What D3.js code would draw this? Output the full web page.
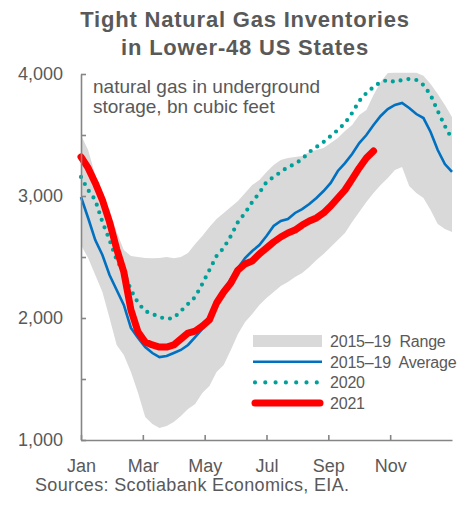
<!DOCTYPE html>
<html>
<head>
<meta charset="utf-8">
<title>Tight Natural Gas Inventories</title>
<script src="https://d3js.org/d3.v7.min.js"></script>
<style>
  body { margin: 0; background: #fff; }
  svg text { font-family: "Liberation Sans", Arial, sans-serif; fill: #595959; }
</style>
</head>
<body>
<svg id="chart" width="465" height="512"></svg>
<script>
// weekly values, bn cubic feet (week 0 = start of Jan)
var rangeHigh = [3500,3377,3172,2984,2885,2705,2557,2508,2500,2492,2490,2492,2500,2490,2500,2533,
  2607,2672,2746,2811,2860,2910,2959,3025,3090,3131,3197,3254,3295,3311,3320,3328,3361,3377,3393,
  3434,3475,3533,3582,3664,3705,3828,3934,4008,4010,4010,4010,4010,3985,3918,3836,3746,3648];
var rangeLow = [2598,2492,2352,2213,2000,1779,1697,1557,1385,1188,1131,1098,1115,1148,1197,1254,
  1295,1385,1443,1557,1615,1738,1869,1967,2033,2107,2164,2213,2262,2295,2336,2369,2418,2475,2525,
  2582,2639,2697,2787,2869,2951,3025,3090,3148,3213,3238,3082,3025,2984,2885,2770,2730,2705];
var avg1519 = [2992,2820,2639,2516,2352,2230,2107,1918,1836,1762,1713,1680,1688,1713,1738,1779,
  1844,1910,1984,2139,2221,2320,2410,2492,2549,2598,2672,2754,2795,2811,2861,2893,2934,2984,3041,
  3107,3205,3270,3344,3434,3500,3582,3656,3713,3746,3762,3721,3672,3639,3525,3377,3262,3197];
var y2020 = [3156,3049,2967,2787,2639,2475,2377,2230,2123,2057,2033,2008,1992,2000,2057,2115,
  2172,2279,2393,2508,2574,2672,2787,2861,2951,3025,3115,3156,3197,3238,3262,3303,3361,3402,3443,
  3492,3541,3598,3680,3779,3844,3893,3934,3951,3934,3951,3959,3951,3910,3828,3697,3574,3467];
var y2021 = [3320,3230,3107,2967,2787,2566,2377,2066,1885,1803,1779,1762,1762,1779,1828,1877,
  1893,1934,1984,2123,2213,2287,2393,2443,2467,2525,2574,2623,2664,2697,2721,2762,2795,2820,2861,
  2918,2984,3049,3139,3230,3311,3369];

var monthTicks = [0, 2, 4, 6, 8, 10];
var monthLabels = ["Jan", "Mar", "May", "Jul", "Sep", "Nov"];
var yTicks = [1000, 1500, 2000, 2500, 3000, 3500, 4000];

var legendItems = ["2015\u201319  Range", "2015\u201319  Average", "2020", "2021"];

var svg = d3.select("#chart");

var x = d3.scaleLinear().domain([0, 12]).range([81, 452]);
var y = d3.scaleLinear().domain([1000, 4000]).range([440, 74]);
var wk = function(i) { return x(i * 12 / 52); };

// title
var title = svg.append("text")
  .attr("x", 245).attr("y", 27)
  .attr("text-anchor", "middle")
  .style("font-size", "22px").style("font-weight", "bold")
  .style("letter-spacing", "0.8px");
title.append("tspan").attr("x", 245).text("Tight Natural Gas Inventories");
title.append("tspan").attr("x", 245).attr("dy", 28).text("in Lower-48 US States");

// range band
var band = d3.area()
  .x(function(d, i) { return wk(i); })
  .y0(function(d, i) { return y(rangeLow[i]); })
  .y1(function(d) { return y(d); });
svg.append("path").datum(rangeHigh)
  .attr("d", band).attr("fill", "#d9d9d9");

var line = d3.line()
  .x(function(d, i) { return wk(i); })
  .y(function(d) { return y(d); });

svg.append("path").datum(avg1519)
  .attr("d", line).attr("fill", "none")
  .attr("stroke", "#0070c0").attr("stroke-width", 2.6);

svg.append("path").datum(y2020)
  .attr("d", line).attr("fill", "none")
  .attr("stroke", "#00a09a").attr("stroke-width", 4.2)
  .attr("stroke-linecap", "round").attr("stroke-dasharray", "0,8");

svg.append("path").datum(y2021)
  .attr("d", line).attr("fill", "none")
  .attr("stroke", "#ff0000").attr("stroke-width", 7)
  .attr("stroke-linecap", "round").attr("stroke-linejoin", "round");

// axes
var yAxis = svg.append("g").attr("transform", "translate(81,0)")
  .call(d3.axisLeft(y).tickValues(yTicks).tickSizeInner(-5).tickSizeOuter(0).tickPadding(18)
    .tickFormat(function(d) { return d % 1000 === 0 ? d3.format(",")(d) : ""; }));
var xAxis = svg.append("g").attr("transform", "translate(0,440)")
  .call(d3.axisBottom(x).tickValues(monthTicks).tickSizeInner(-5).tickSizeOuter(0).tickPadding(19)
    .tickFormat(function(d, i) { return monthLabels[i]; }));

[yAxis, xAxis].forEach(function(g) {
  g.selectAll("path, line").attr("stroke", "#858585").attr("stroke-width", 1.6);
  g.selectAll("text").style("font-size", "18px").attr("fill", "#595959")
    .style("font-family", "'Liberation Sans', Arial, sans-serif");
});

// unit note
var note = svg.append("text").attr("x", 93).attr("y", 93).style("font-size", "19px");
note.append("tspan").attr("x", 93).text("natural gas in underground");
note.append("tspan").attr("x", 93).attr("dy", 20).text("storage, bn cubic feet");

// legend
var leg = svg.append("g").attr("transform", "translate(253,341)");
legendItems.forEach(function(name, i) {
  var g = leg.append("g").attr("transform", "translate(0," + (i * 20.7) + ")");
  if (i === 0) {
    g.append("rect").attr("x", 0).attr("y", -6).attr("width", 69).attr("height", 12).attr("fill", "#d9d9d9");
  } else if (i === 1) {
    g.append("line").attr("x1", 0).attr("x2", 69).attr("stroke", "#0070c0").attr("stroke-width", 2.6);
  } else if (i === 2) {
    g.append("line").attr("x1", 2).attr("x2", 64).attr("stroke", "#00a09a").attr("stroke-width", 4.2)
      .attr("stroke-linecap", "round").attr("stroke-dasharray", "0,10.3");
  } else {
    g.append("line").attr("x1", 2).attr("x2", 67).attr("stroke", "#ff0000").attr("stroke-width", 7)
      .attr("stroke-linecap", "round");
  }
  g.append("text").attr("x", 77).attr("y", 6).style("font-size", "16px")
    .style("letter-spacing", "-0.2px").style("white-space", "pre").text(name);
});

// source
svg.append("text").attr("x", 35).attr("y", 491).style("font-size", "18px")
  .style("letter-spacing", "0.35px")
  .text("Sources: Scotiabank Economics, EIA.");
</script>
</body>
</html>
